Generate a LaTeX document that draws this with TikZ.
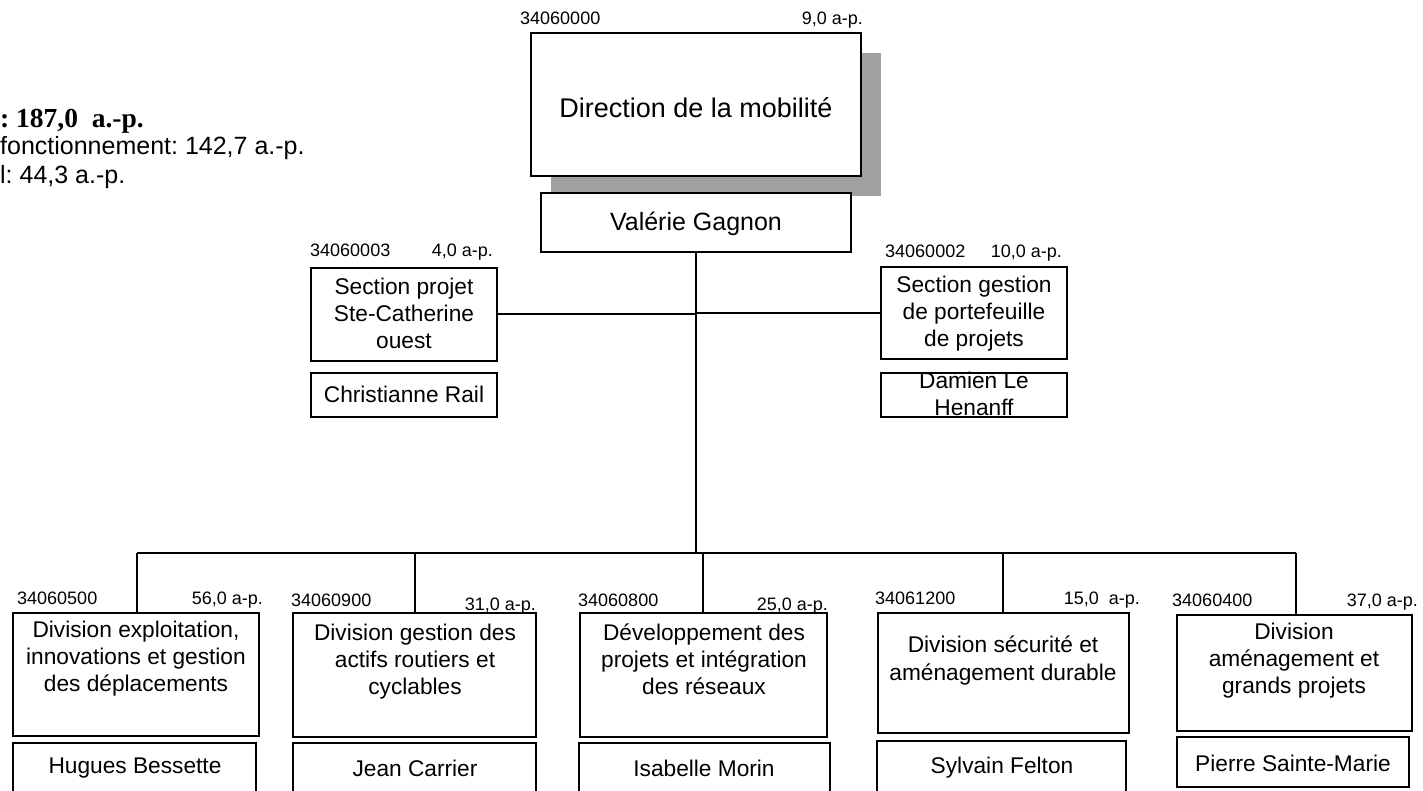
\documentclass[tikz,border=0pt]{standalone}
\usepackage{fontspec}
\setmainfont{Liberation Sans}
\newfontfamily\serifb{Liberation Serif}
\usetikzlibrary{fit}
\definecolor{shadowgray}{RGB}{160,160,160}
\newcommand\Ts{\rule{0pt}{0.8em}}
\newcommand\Bs{\rule[-0.25em]{0pt}{0.25em}}
\newcommand\fLbl{\fontsize{18}{21}\selectfont}
\newcommand\fDiv{\fontsize{22.7}{27.3}\selectfont}
\frenchspacing
\begin{document}
\begin{tikzpicture}[x=1pt,y=-1pt,
  box/.style={draw=black, line width=1.8pt, fill=white, inner sep=0pt},
  openbox/.style={draw=black, line width=1.8pt, inner sep=0pt},
  shadowbox/.style={fill=shadowgray, inner sep=0pt},
  txt/.style={inner sep=0pt, align=center, text=black, execute at begin node=\Ts, execute at end node=\Bs},
  lbl/.style={inner sep=0pt, text=black, font=\fLbl, execute at begin node=\Ts, execute at end node=\Bs},
  ltxt/.style={inner sep=0pt, anchor=west, text=black, execute at begin node=\Ts, execute at end node=\Bs},
  conn/.style={draw=black, line width=1.8pt}]
\useasboundingbox (0,0) rectangle (1423,790);

% summary text (cut at the left edge)
\node[ltxt, font=\serifb\bfseries\fontsize{27.5}{30}\selectfont] (tot) at (0,120) {:~187,0~~a.-p.};
\node[ltxt, font=\fontsize{25}{29}\selectfont] (fonc) at (0,148) {fonctionnement: 142,7 a.-p.};
\node[ltxt, font=\fontsize{25}{29}\selectfont] (capi) at (0,177) {l: 44,3 a.-p.};

% direction
\node[lbl, anchor=west] (dirC) at (520,20) {34060000};
\node[lbl, anchor=east] (dirA) at (863,20) {9,0 a-p.};
\node[shadowbox, fit={(551,53) (881,196)}] (shadow) {};
\node[box, fit={(531,33) (861,176)}] (dir) {};
\node[txt, font=\fontsize{27}{31}\selectfont] (dirT) at (696,110) {Direction de la mobilité};
\node[box, fit={(541,193) (851,252)}] (val) {};
\node[txt, font=\fontsize{25}{29}\selectfont] (valT) at (696,224) {Valérie Gagnon};

% left section
\node[lbl, anchor=west] (sLc) at (310,252) {34060003};
\node[lbl, anchor=east] (sLa) at (493,252) {4,0 a-p.};
\node[box, fit={(311,268) (497,361)}] (secL) {};
\node[txt, font=\fDiv] (secLT) at (404,316) {Section projet\\Ste-Catherine\\ouest};
\node[box, fit={(311,373) (497,417)}] (nomL) {};
\node[txt, font=\fDiv] (nomLT) at (404,396) {Christianne Rail};

% right section
\node[lbl, anchor=west] (sRc) at (885,253) {34060002};
\node[lbl, anchor=east] (sRa) at (1062,253) {10,0 a-p.};
\node[box, fit={(881,267) (1067,359)}] (secR) {};
\node[txt, font=\fDiv] (secRT) at (974,314) {Section gestion\\de portefeuille\\de projets};
\node[openbox, fit={(881,373) (1067,417)}] (nomR) {};
\node[txt, font=\fDiv] (nomRT) at (974,396.5) {Damien Le\\Henanff};

% divisions
\node[lbl, anchor=west] (cA) at (17,600) {34060500};
\node[lbl, anchor=east] (aA) at (263,600) {56,0 a-p.};
\node[box, fit={(13,613) (259,736)}] (dA) {};
\node[txt, font=\fDiv] (dAT) at (136,659) {Division exploitation,\\innovations et gestion\\des déplacements};
\node[box, fit={(13,743) (256,794)}] (nA) {};
\node[txt, font=\fDiv] (nAT) at (135,767) {Hugues Bessette};

\node[lbl, anchor=west] (cB) at (291,602) {34060900};
\node[lbl, anchor=east] (aB) at (536,606) {31,0 a-p.};
\node[box, fit={(293,613) (536,737)}] (dB) {};
\node[txt, font=\fDiv] (dBT) at (415,662) {Division gestion des\\actifs routiers et\\cyclables};
\node[box, fit={(293,743) (536,794)}] (nB) {};
\node[txt, font=\fDiv] (nBT) at (415,770) {Jean Carrier};

\node[lbl, anchor=west] (cC) at (578,602) {34060800};
\node[lbl, anchor=east] (aC) at (828,606) {25,0 a-p.};
\node[box, fit={(580,613) (827,737)}] (dC) {};
\node[txt, font=\fDiv] (dCT) at (704,662) {Développement des\\projets et intégration\\des réseaux};
\node[box, fit={(579,743) (830,794)}] (nC) {};
\node[txt, font=\fDiv] (nCT) at (704,770) {Isabelle Morin};

\node[lbl, anchor=west] (cD) at (875,600) {34061200};
\node[lbl, anchor=east] (aD) at (1140,600) {15,0~~a-p.};
\node[box, fit={(878,613) (1129,733)}] (dD) {};
\node[txt, font=\fDiv] (dDT) at (1003,661) {Division sécurité et\\aménagement durable};
\node[box, fit={(877,741) (1126,794)}] (nD) {};
\node[txt, font=\fDiv] (nDT) at (1002,767) {Sylvain Felton};

\node[lbl, anchor=west] (cE) at (1172,602) {34060400};
\node[lbl, anchor=east] (aE) at (1418,602) {37,0 a-p.};
\node[box, fit={(1177,615) (1412,731)}] (dE) {};
\node[txt, font=\fDiv] (dET) at (1294,661) {Division\\aménagement et\\grands projets};
\node[box, fit={(1177,737) (1409,787)}] (nE) {};
\node[txt, font=\fDiv] (nET) at (1293,765) {Pierre Sainte-Marie};

% connectors
\coordinate (jL) at (696,314);
\coordinate (jR) at (696,313);
\coordinate (busC) at (696,553);
\coordinate (b1) at (137,553);
\coordinate (b2) at (415,553);
\coordinate (b3) at (703,553);
\coordinate (b4) at (1003,553);
\coordinate (b5) at (1296,553);
\draw[conn] (val.south) -- (busC);
\draw[conn] (secL.east |- jL) -- (jL);
\draw[conn] (jR) -- (jR -| secR.west);
\draw[conn] (b1) -- (b5);
\draw[conn] (b1) -- (b1 |- dA.north);
\draw[conn] (b2) -- (b2 |- dB.north);
\draw[conn] (b3) -- (b3 |- dC.north);
\draw[conn] (b4) -- (b4 |- dD.north);
\draw[conn] (b5) -- (b5 |- dE.north);
\end{tikzpicture}
\end{document}
